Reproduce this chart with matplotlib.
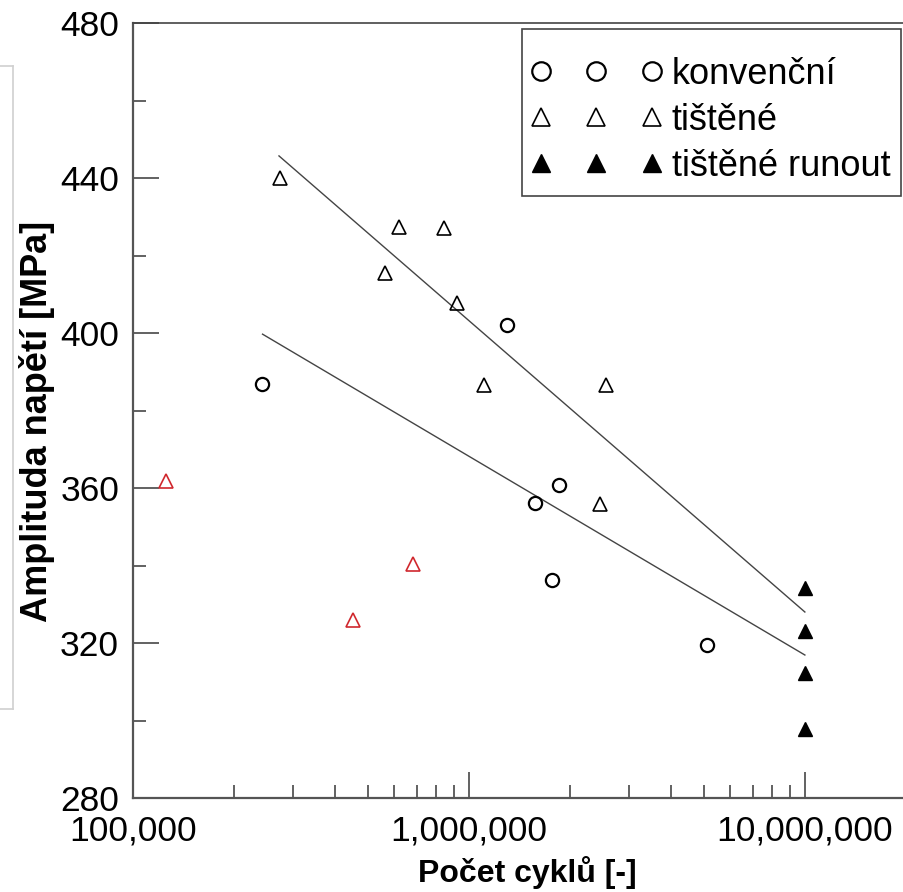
import matplotlib
matplotlib.use("Agg")
import matplotlib.pyplot as plt
from matplotlib.lines import Line2D
from matplotlib.patches import Rectangle
from matplotlib.ticker import FixedLocator, FuncFormatter, LogLocator, NullFormatter

plt.rcParams['font.family'] = ['Liberation Sans', 'DejaVu Sans']

# konvenční
konv_n = [2.42e5, 1.30e6, 1.85e6, 1.57e6, 1.77e6, 5.1e6]
konv_s = [386.8, 402.1, 360.8, 356.1, 336.3, 319.5]

# tištěné
tist_n = [2.74e5, 6.19e5, 8.43e5, 5.62e5, 9.2e5, 1.11e6, 2.56e6, 2.45e6]
tist_s = [440.0, 427.4, 427.1, 415.5, 407.7, 386.6, 386.6, 355.9]

# tištěné runout
runout_n = [1e7, 1e7, 1e7, 1e7]
runout_s = [334.2, 323.1, 312.3, 297.8]

# red points (not in legend)
red_n = [1.25e5, 4.52e5, 6.81e5]
red_s = [361.8, 325.9, 340.4]

# fit lines (endpoints)
fit_tist_n = [2.72e5, 1e7]
fit_tist_s = [445.7, 328.0]
fit_konv_n = [2.43e5, 1e7]
fit_konv_s = [399.7, 316.9]

W, H = 904, 892
fig = plt.figure(figsize=(W / 100, H / 100), dpi=100)
ax = fig.add_axes([133 / W, 94 / H, (906 - 133) / W, (798 - 23) / H])

ax.plot(fit_tist_n, fit_tist_s, color='#444444', lw=1.0)
ax.plot(fit_konv_n, fit_konv_s, color='#444444', lw=1.0)

ax.plot(konv_n, konv_s, 'o', ms=9.5, mfc='none', mec='black', mew=1.6,
        label='konvenční')
ax.plot(tist_n, tist_s, '^', ms=9.5, mfc='none', mec='black', mew=1.2,
        label='tištěné')
ax.plot(runout_n, runout_s, '^', ms=9.5, mfc='black', mec='black', mew=1.0,
        label='tištěné runout')
ax.plot(red_n, red_s, '^', ms=9.5, mfc='none', mec='#d0282e', mew=1.2)

ax.set_xscale('log')
ax.set_xlim(1e5, 2e7)
ax.set_ylim(280, 480)

ax.xaxis.set_major_locator(FixedLocator([1e5, 1e6, 1e7]))
ax.xaxis.set_major_formatter(FuncFormatter(lambda v, p: f"{int(round(v)):,}"))
ax.xaxis.set_minor_locator(LogLocator(base=10, subs=range(2, 10)))
ax.xaxis.set_minor_formatter(NullFormatter())
ax.yaxis.set_major_locator(FixedLocator([280, 320, 360, 400, 440, 480]))
ax.yaxis.set_minor_locator(FixedLocator([300, 340, 380, 420, 460]))

ax.tick_params(which='both', direction='in', color='#555555', width=1.3,
               labelsize=25.5, top=False, right=False)
ax.tick_params(which='major', length=19, pad=10)
ax.tick_params(which='minor', length=9.5)
ax.tick_params(axis='x', which='major', pad=12)

for side in ['left', 'bottom']:
    ax.spines[side].set_color('#555555')
    ax.spines[side].set_linewidth(1.6)
ax.spines['top'].set_color('#444444')
ax.spines['top'].set_linewidth(1.2)
ax.spines['right'].set_visible(False)

ax.set_xlabel('Počet cyklů [-]', fontsize=23, fontweight='bold')
ax.set_ylabel('Amplituda napětí [MPa]', fontsize=26, fontweight='bold')
ax.xaxis.set_label_coords((527 - 133) / (906 - 133), -(856 - 798) / 775)
ax.yaxis.set_label_coords(-(133 - 55) / 773, (798 - 421) / 775)

fs = 26 * 100 / 72
leg = ax.legend(loc='upper left',
                bbox_to_anchor=((530 - 133) / 773, (798 - 57) / 775),
                borderaxespad=0, borderpad=0, numpoints=3, markerscale=1.4,
                fontsize=26, handlelength=(111 + 0.6 * fs) / fs,
                handletextpad=0.25, labelspacing=0.30, frameon=False)

# legend frame
ax.add_patch(Rectangle(((522 - 133) / 773, (798 - 196) / 775),
                       (901 - 522) / 773, (196 - 29) / 775,
                       transform=ax.transAxes, fill=False,
                       edgecolor='#444444', lw=1.2, clip_on=False, zorder=5))

# light gray frame remnant at the left edge
gray = '#d0d0d0'
fig.add_artist(Line2D([13 / W, 13 / W], [1 - 66 / H, 1 - 709 / H], color=gray, lw=1.2))
fig.add_artist(Line2D([0, 13 / W], [1 - 66 / H, 1 - 66 / H], color=gray, lw=1.2))
fig.add_artist(Line2D([0, 13 / W], [1 - 709 / H, 1 - 709 / H], color=gray, lw=1.2))

fig.savefig('out.png', dpi=100)
